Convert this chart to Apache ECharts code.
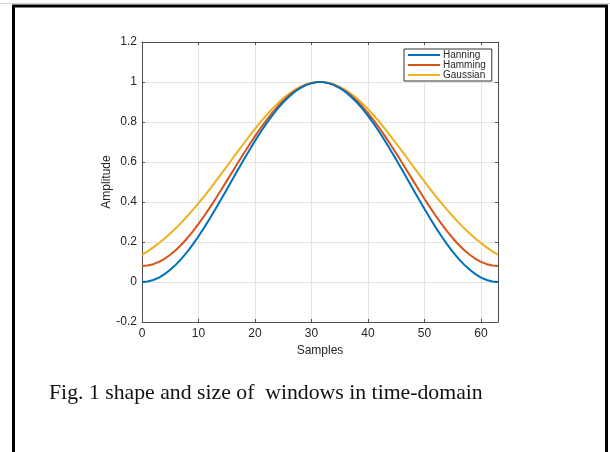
<!DOCTYPE html>
<html>
<head>
<meta charset="utf-8">
<style>
  html, body { margin: 0; padding: 0; background: #ffffff; }
  #chart { width: 610px; height: 452px; }
</style>
<script src="https://cdn.jsdelivr.net/npm/echarts@6/dist/echarts.min.js"></script>
</head>
<body>
<div id="chart"></div>
<script>
// Sample index (64-point windows)
const samples = [
  0, 1, 2, 3, 4, 5, 6, 7, 8, 9, 10, 11, 12, 13, 14, 15,
  16, 17, 18, 19, 20, 21, 22, 23, 24, 25, 26, 27, 28, 29, 30, 31,
  32, 33, 34, 35, 36, 37, 38, 39, 40, 41, 42, 43, 44, 45, 46, 47,
  48, 49, 50, 51, 52, 53, 54, 55, 56, 57, 58, 59, 60, 61, 62, 63
];

const hanning = [
  0, 0.0025, 0.0099, 0.0222, 0.0393, 0.0609, 0.0869, 0.1170,
  0.1509, 0.1883, 0.2287, 0.2719, 0.3173, 0.3646, 0.4132, 0.4626,
  0.5125, 0.5622, 0.6113, 0.6592, 0.7056, 0.7500, 0.7919, 0.8308,
  0.8665, 0.8986, 0.9266, 0.9505, 0.9698, 0.9845, 0.9944, 0.9994,
  0.9994, 0.9944, 0.9845, 0.9698, 0.9505, 0.9266, 0.8986, 0.8665,
  0.8308, 0.7919, 0.7500, 0.7056, 0.6592, 0.6113, 0.5622, 0.5125,
  0.4626, 0.4132, 0.3646, 0.3173, 0.2719, 0.2287, 0.1883, 0.1509,
  0.1170, 0.0869, 0.0609, 0.0393, 0.0222, 0.0099, 0.0025, 0
];

const hamming = [
  0.0800, 0.0823, 0.0891, 0.1004, 0.1161, 0.1360, 0.1599, 0.1876,
  0.2188, 0.2532, 0.2904, 0.3301, 0.3719, 0.4154, 0.4601, 0.5056,
  0.5515, 0.5972, 0.6424, 0.6865, 0.7292, 0.7700, 0.8085, 0.8444,
  0.8772, 0.9067, 0.9325, 0.9544, 0.9723, 0.9858, 0.9949, 0.9994,
  0.9994, 0.9949, 0.9858, 0.9723, 0.9544, 0.9325, 0.9067, 0.8772,
  0.8444, 0.8085, 0.7700, 0.7292, 0.6865, 0.6424, 0.5972, 0.5515,
  0.5056, 0.4601, 0.4154, 0.3719, 0.3301, 0.2904, 0.2532, 0.2188,
  0.1876, 0.1599, 0.1360, 0.1161, 0.1004, 0.0891, 0.0823, 0.0800
];

const gaussian = [
  0.1353, 0.1534, 0.1731, 0.1945, 0.2178, 0.2428, 0.2696, 0.2982,
  0.3285, 0.3604, 0.3939, 0.4287, 0.4647, 0.5017, 0.5394, 0.5777,
  0.6162, 0.6546, 0.6926, 0.7298, 0.7660, 0.8007, 0.8337, 0.8645,
  0.8928, 0.9184, 0.9409, 0.9600, 0.9756, 0.9875, 0.9955, 0.9995,
  0.9995, 0.9955, 0.9875, 0.9756, 0.9600, 0.9409, 0.9184, 0.8928,
  0.8645, 0.8337, 0.8007, 0.7660, 0.7298, 0.6926, 0.6546, 0.6162,
  0.5777, 0.5394, 0.5017, 0.4647, 0.4287, 0.3939, 0.3604, 0.3285,
  0.2982, 0.2696, 0.2428, 0.2178, 0.1945, 0.1731, 0.1534, 0.1353
];

const seriesNames = ['Hanning', 'Hamming', 'Gaussian'];
const xTicks = { min: 0, max: 63, interval: 10 };
const yTicks = { min: -0.2, max: 1.2, interval: 0.2 };
const captionText = 'Fig. 1 shape and size of  windows in time-domain';

const axisColor = '#4d4d4d';
const labelColor = '#262626';
const gridColor = '#e3e3e3';
const colors = ['#0072BD', '#D95319', '#EDB120'];
const sansFont = 'Liberation Sans, Arial, sans-serif';

function pairs(xs, ys) { return xs.map((x, i) => [x, ys[i]]); }

const chart = echarts.init(document.getElementById('chart'), null, { renderer: 'canvas' });

const baseX = {
  type: 'value', min: xTicks.min, max: xTicks.max, interval: xTicks.interval,
  axisLine: { show: true, onZero: false, lineStyle: { color: axisColor, width: 1 } },
  axisTick: { show: true, inside: true, length: 3, lineStyle: { color: axisColor } }
};
const baseY = {
  type: 'value', min: yTicks.min, max: yTicks.max, interval: yTicks.interval,
  axisLine: { show: true, onZero: false, lineStyle: { color: axisColor, width: 1 } },
  axisTick: { show: true, inside: true, length: 3, lineStyle: { color: axisColor } }
};

chart.setOption({
  animation: false,
  backgroundColor: '#ffffff',
  color: colors,
  grid: { left: 142, top: 42, width: 356, height: 280, containLabel: false },
  xAxis: [
    Object.assign({}, baseX, {
      position: 'bottom',
      name: 'Samples', nameLocation: 'middle', nameGap: 23, nameMoveOverlap: false,
      nameTextStyle: { color: labelColor, fontSize: 12, fontFamily: sansFont },
      axisLabel: { color: labelColor, fontSize: 12, margin: 6, showMaxLabel: false, fontFamily: sansFont },
      splitLine: { show: true, lineStyle: { color: gridColor, width: 1 } }
    }),
    Object.assign({}, baseX, {
      position: 'top',
      axisLabel: { show: false },
      splitLine: { show: false }
    })
  ],
  yAxis: [
    Object.assign({}, baseY, {
      position: 'left',
      name: 'Amplitude', nameLocation: 'middle', nameGap: 29, nameRotate: 90, nameMoveOverlap: false,
      nameTextStyle: { color: labelColor, fontSize: 12, fontFamily: sansFont },
      axisLabel: { color: labelColor, fontSize: 12, margin: 5, fontFamily: sansFont },
      splitLine: { show: true, lineStyle: { color: gridColor, width: 1 } }
    }),
    Object.assign({}, baseY, {
      position: 'right',
      axisLabel: { show: false },
      splitLine: { show: false }
    })
  ],
  legend: {
    orient: 'vertical',
    left: 404, top: 49,
    data: seriesNames,
    backgroundColor: '#ffffff',
    borderColor: '#333333', borderWidth: 1, borderRadius: 0,
    padding: [1, 6, 1, 4],
    itemGap: 0,
    itemWidth: 32, itemHeight: 2,
    icon: 'rect',
    textStyle: { color: labelColor, fontSize: 10, lineHeight: 8.5, padding: [0, 0, 0, -2], fontFamily: sansFont }
  },
  series: [
    { name: seriesNames[0], type: 'line', data: pairs(samples, hanning), showSymbol: false, lineStyle: { width: 2 }, z: 5 },
    { name: seriesNames[1], type: 'line', data: pairs(samples, hamming), showSymbol: false, lineStyle: { width: 2 }, z: 4 },
    { name: seriesNames[2], type: 'line', data: pairs(samples, gaussian), showSymbol: false, lineStyle: { width: 2 }, z: 3 }
  ],
  graphic: [
    { type: 'line', shape: { x1: 0, y1: 3.5, x2: 610, y2: 3.5 }, style: { stroke: '#d0d0d0', lineWidth: 1 }, silent: true },
    { type: 'polyline', shape: { points: [[13.5, 460], [13.5, 6], [606.5, 6], [606.5, 460]] }, style: { stroke: '#000000', lineWidth: 3, fill: null }, silent: true },
    {
      type: 'text', left: 49, top: 382,
      style: { text: captionText, fill: '#111111', font: '21.75px "Liberation Serif", "Times New Roman", serif' },
      silent: true
    }
  ]
});
</script>
</body>
</html>
